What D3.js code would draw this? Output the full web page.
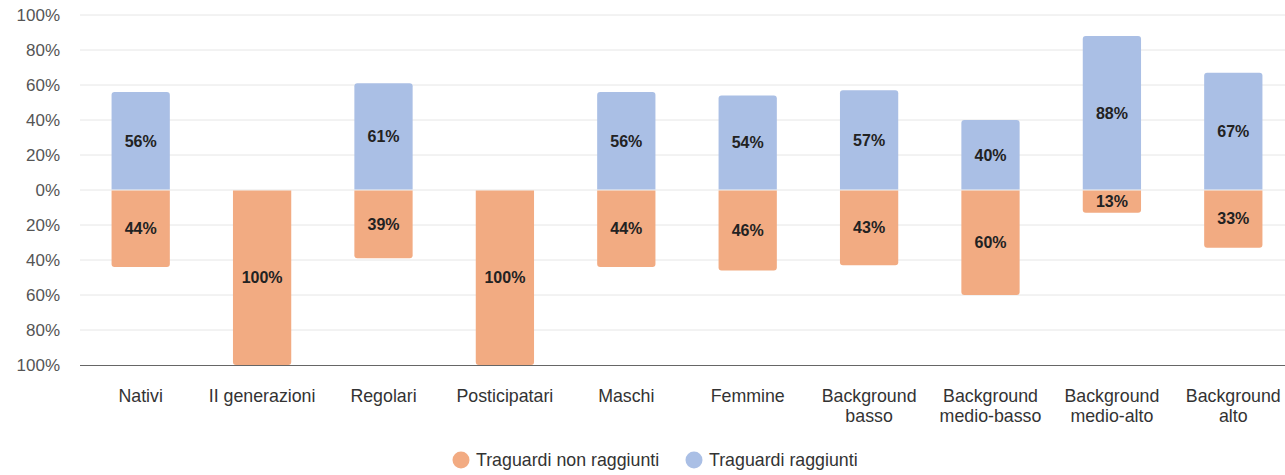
<!DOCTYPE html>
<html><head><meta charset="utf-8">
<script src="https://cdn.jsdelivr.net/npm/d3@7"></script>
<style>body{margin:0;background:#fff;font-family:"Liberation Sans",Arial,sans-serif;}</style>
</head><body>
<svg id="c" width="1285" height="475"></svg>
<script>
const categories = ["Nativi","II generazioni","Regolari","Posticipatari","Maschi","Femmine","Background basso","Background medio-basso","Background medio-alto","Background alto"];
const categoryLines = [["Nativi"],["II generazioni"],["Regolari"],["Posticipatari"],["Maschi"],["Femmine"],["Background","basso"],["Background","medio-basso"],["Background","medio-alto"],["Background","alto"]];
const reached = [56,0,61,0,56,54,57,40,88,67];
const notReached = [44,100,39,100,44,46,43,60,13,33];
const yTicks = [100,80,60,40,20,0,-20,-40,-60,-80,-100];
const seriesNames = ["Traguardi non raggiunti","Traguardi raggiunti"];
const colors = {not:"#f2ab82", yes:"#aabfe5"};

const svg = d3.select("#c");
const y = d3.scaleLinear().domain([100,-100]).range([15,365]);
const x = d3.scaleBand().domain(categories).range([80,1294]).paddingInner(0.52).paddingOuter(0.26);

// gridlines
svg.append("g").selectAll("line").data(yTicks.filter(t=>t!==-100)).join("line")
  .attr("x1",80).attr("x2",1285).attr("y1",d=>y(d)).attr("y2",d=>y(d))
  .attr("stroke","#e6e6e6").attr("stroke-width",1);
// y labels
svg.append("g").selectAll("text").data(yTicks).join("text")
  .attr("x",60).attr("y",d=>y(d)).attr("dy","0.35em").attr("text-anchor","end")
  .attr("font-size",17).attr("fill","#555").text(d=>Math.abs(d)+"%");

function roundedTop(x0,y0,w,h,r){
  r=Math.min(r,h);
  return `M${x0},${y0+h}V${y0+r}Q${x0},${y0} ${x0+r},${y0}H${x0+w-r}Q${x0+w},${y0} ${x0+w},${y0+r}V${y0+h}Z`;
}
function roundedBottom(x0,y0,w,h,r){
  r=Math.min(r,h);
  return `M${x0},${y0}V${y0+h-r}Q${x0},${y0+h} ${x0+r},${y0+h}H${x0+w-r}Q${x0+w},${y0+h} ${x0+w},${y0+h-r}V${y0}Z`;
}
const bw = x.bandwidth();
const g = svg.append("g");
categories.forEach((c,i)=>{
  const x0 = x(c);
  if(reached[i]>0){
    const y0=y(reached[i]), h=y(0)-y0;
    g.append("path").attr("d",roundedTop(x0,y0,bw,h-0.5,3)).attr("fill",colors.yes);
    g.append("text").attr("x",x0+bw/2).attr("y",y0+h/2).attr("dy","0.35em").attr("text-anchor","middle")
      .attr("font-size",16).attr("font-weight","bold").attr("fill","#222").text(reached[i]+"%");
  }
  if(notReached[i]>0){
    const y0=y(0), h=y(-notReached[i])-y0;
    g.append("path").attr("d",roundedBottom(x0,y0+0.5,bw,h-0.5,3)).attr("fill",colors.not);
    g.append("text").attr("x",x0+bw/2).attr("y",y0+h/2).attr("dy","0.35em").attr("text-anchor","middle")
      .attr("font-size",16).attr("font-weight","bold").attr("fill","#222").text(notReached[i]+"%");
  }
});
// baseline
svg.append("line").attr("x1",80).attr("x2",1285).attr("y1",y(-100)+0.5).attr("y2",y(-100)+0.5)
  .attr("stroke","#666").attr("stroke-width",1.2);

// x labels
categories.forEach((c,i)=>{
  const t = svg.append("text").attr("x",x(c)+bw/2).attr("y",402).attr("text-anchor","middle")
    .attr("font-size",17.8).attr("fill","#333");
  categoryLines[i].forEach((l,j)=>t.append("tspan").attr("x",x(c)+bw/2).attr("dy",j?20:0).text(l));
});

// legend
const leg = [{n:seriesNames[0],c:colors.not,x:461},{n:seriesNames[1],c:colors.yes,x:694}];
leg.forEach(l=>{
  svg.append("circle").attr("cx",l.x).attr("cy",460).attr("r",8.5).attr("fill",l.c);
  svg.append("text").attr("x",l.x+15).attr("y",460).attr("dy","0.35em").attr("font-size",17.8).attr("fill","#333").text(l.n);
});
</script>
</body></html>
